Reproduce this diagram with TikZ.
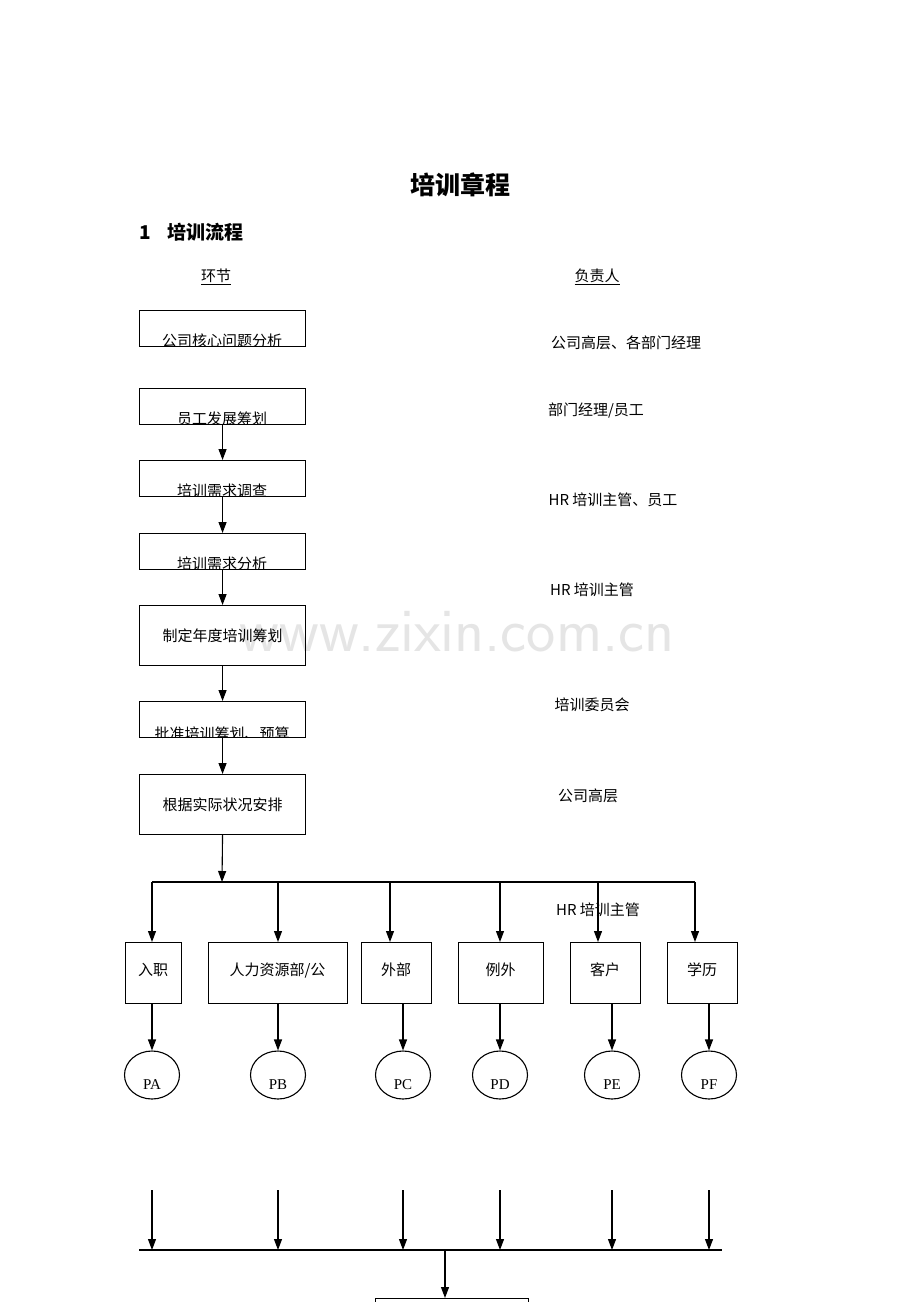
\documentclass[tikz,border=0pt]{standalone}
\usepackage{fontspec}
\setmainfont{Liberation Serif}
\newfontfamily\cjk{Noto Sans CJK SC}
\usetikzlibrary{arrows.meta,shapes.geometric}
\begin{document}
\begin{tikzpicture}[x=1pt,y=-1pt,
  box/.style={draw,line width=1.1pt,minimum height=#1,inner sep=0pt,anchor=north west},
  lbl/.style={font=\fontsize{15}{15}\selectfont\cjk},
  rl/.style={font=\fontsize{15}{15}\selectfont\cjk,anchor=base},
  arr/.style={-{Triangle[length=11pt,width=8pt]},line width=1.1pt},
  circ/.style={draw,ellipse,line width=1.1pt,minimum width=55pt,minimum height=48pt,inner sep=0pt}]
\useasboundingbox (0,0) rectangle (920,1302);
\fill[white] (0,0) rectangle (920,1302);
\node[font=\fontsize{62}{62}\selectfont\sffamily,text=black!10] (wm) at (457,632) {www.zixin.com.cn};
\node[font=\fontsize{25}{25}\selectfont\cjk\bfseries] (title) at (460,185) {培训章程};
\node[font=\fontsize{19}{19}\selectfont\cjk\bfseries,anchor=west] (sec) at (136,232) {1\hspace{16pt}培训流程};
\node[lbl] (h1) at (216,277) {\underline{环节}};
\node[lbl] (h2) at (597,277) {\underline{负责人}};
% top boxes with clipped text
\foreach \n/\y/\h/\t/\ty in {b1/310/36/公司核心问题分析/337,b2/388/36/员工发展筹划/415,b3/460/36/培训需求调查/487,b4/533/36/培训需求分析/560,b6/701/36/批准培训筹划、预算/730}{
  \begin{scope}
  \clip (139,\y) rectangle (305,\y+\h);
  \node[lbl] at (222,\ty+4) {\t};
  \end{scope}
  \node[box=\h pt,minimum width=166pt] (\n) at (139,\y) {};
}
\node[box=60pt,minimum width=166pt] (b5) at (139,605) {};
\node[lbl] at (b5.center) {制定年度培训筹划};
\node[box=60pt,minimum width=166pt] (b7) at (139,774) {};
\node[lbl] at (b7.center) {根据实际状况安排};
\draw[arr] (b2.south) -- (b3.north);
\draw[arr] (b3.south) -- (b4.north);
\draw[arr] (b4.south) -- (b5.north);
\draw[arr] (b5.south) -- (b6.north);
\draw[arr] (b6.south) -- (b7.north);
\coordinate (bus1) at (222,882);
\draw[arr] (b7.south) -- (bus1);
\draw[line width=1.1pt] (152,882) -- (695,882);
% responsibility labels
\node[rl] (r1) at (626,348) {公司高层、各部门经理};
\node[rl] (r2) at (596,415) {部门经理/员工};
\node[rl] (r3) at (613,505) {HR 培训主管、员工};
\node[rl] (r4) at (592,595) {HR 培训主管};
\node[rl] (r5) at (592,710) {培训委员会};
\node[rl] (r6) at (588,801) {公司高层};
\node[rl] (r7) at (598,915) {HR 培训主管};
% second row boxes
\foreach \n/\xa/\xb/\t/\ax in {c1/125/181/入职/152,c2/208/347/{人力资源部/公}/278,c3/361/431/外部/390,c4/458/543/例外/500,c5/570/640/客户/598,c6/667/737/学历/695}{
  \pgfmathsetmacro\w{\xb-\xa}
  \node[box=61pt,minimum width=\w pt] (\n) at (\xa,942) {};
  \node[lbl,anchor=base] at ({(\xa+\xb)/2},975) {\t};
  \coordinate (\n t) at (\ax,882);
  \draw[arr] (\n t) -- (\ax,942);
}
% circles
\foreach \n/\x/\t in {p1/152/PA,p2/278/PB,p3/403/PC,p4/500/PD,p5/612/PE,p6/709/PF}{
  \node[circ] (\n) at (\x,1075) {};
  \node[font=\fontsize{15}{15}\selectfont,anchor=base] at (\x,1089) {\t};
  \coordinate (\n s) at (\x,1003);
  \draw[arr] (\n s) -- (\n.north);
  \coordinate (\n a) at (\x,1190);
  \coordinate (\n b) at (\x,1250);
  \draw[arr] (\n a) -- (\n b);
}
\draw[line width=1.1pt] (139,1250) -- (722,1250);
\node[box=30pt,minimum width=153pt] (fin) at (375,1298) {};
\coordinate (bus2) at (445,1250);
\draw[arr] (bus2) -- (445,1298);
\end{tikzpicture}
\end{document}
